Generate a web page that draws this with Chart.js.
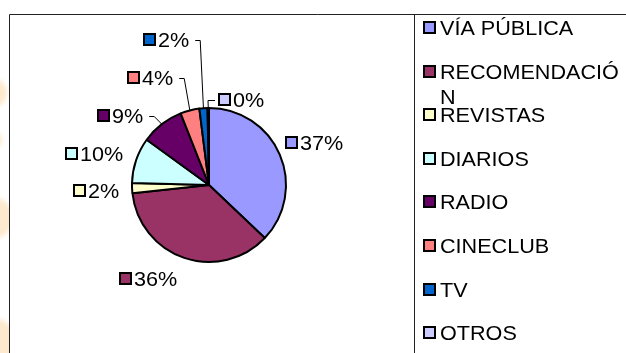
<!DOCTYPE html>
<html>
<head>
<meta charset="utf-8">
<script src="https://cdn.jsdelivr.net/npm/chart.js@4/dist/chart.umd.min.js"></script>
<style>
  html, body { margin: 0; padding: 0; background: #fff; }
  canvas { display: block; }
</style>
</head>
<body>
<canvas id="medios" width="626" height="353"></canvas>
<script>
(function () {
  'use strict';

  // Share of answers per channel (percent)
  var categories = ['VÍA PÚBLICA', 'RECOMENDACIÓN', 'REVISTAS', 'DIARIOS', 'RADIO', 'CINECLUB', 'TV', 'OTROS'];
  var shares = [37.1, 36.2, 2.1, 9.6, 9.0, 4.0, 1.7, 0.3];
  var sliceColors = ['#9999FF', '#993366', '#FFFFCC', '#CCFFFF', '#660066', '#FF8080', '#0066CC', '#CCCCFF'];

  var FONT = '20px "Liberation Sans", Arial, sans-serif';
  var STRETCH = 1.08; // text is a little wider than the plain face

  // label box placement, relative to the slice's outer midpoint: [dx, dy, leader]
  var labelPlacement = [
    [5, -12, false],
    [-65, 21, false],
    [-59, 3, false],
    [-71, -6, false],
    [-65, -8, true],
    [-63, -32, true],
    [-60, -68, true],
    [10, -8, true]
  ];

  function pctText(i) {
    var total = shares.reduce(function (a, b) { return a + b; }, 0);
    return Math.round(shares[i] / total * 100) + '%';
  }

  function textWidth(ctx, s) {
    return ctx.measureText(s).width * STRETCH;
  }

  function drawText(ctx, s, x, y) {
    ctx.save();
    ctx.translate(x, y);
    ctx.scale(STRETCH, 1);
    ctx.fillText(s, 0, 0);
    ctx.restore();
  }

  function keySquare(ctx, x, y, color) {
    ctx.fillStyle = color;
    ctx.fillRect(x + 1, y + 1, 11, 11);
    ctx.lineWidth = 2;
    ctx.strokeStyle = '#000';
    ctx.strokeRect(x + 1, y + 1, 11, 11);
  }

  // ============================================
  // Background: slide edge + frame lines
  // ============================================
  var framePlugin = {
    id: 'frame',
    beforeDraw: function (chart) {
      var ctx = chart.ctx;
      ctx.save();
      ctx.fillStyle = '#fff';
      ctx.fillRect(0, 0, chart.width, chart.height);

      // orange blobs peeking from the slide behind
      ctx.save();
      ctx.beginPath();
      ctx.rect(0, 0, 9, chart.height);
      ctx.clip();
      ctx.filter = 'blur(2px)';
      ctx.fillStyle = 'rgba(250, 200, 130, 0.4)';
      [[-8, 93, 15], [-6, 140, 8], [-8, 218, 21], [-8, 342, 24]].forEach(function (b) {
        ctx.beginPath();
        ctx.arc(b[0], b[1], b[2], 0, Math.PI * 2);
        ctx.fill();
      });
      ctx.restore();

      ctx.strokeStyle = '#222';
      ctx.lineWidth = 1;
      ctx.beginPath();
      ctx.moveTo(9.5, chart.height);
      ctx.lineTo(9.5, 14.5);
      ctx.lineTo(chart.width, 14.5);
      ctx.moveTo(414.5, 14.5);
      ctx.lineTo(414.5, chart.height);
      ctx.stroke();
      ctx.restore();
    }
  };

  // ============================================
  // Percent labels beside each slice
  // ============================================
  var sliceLabelPlugin = {
    id: 'sliceLabels',
    afterDatasetsDraw: function (chart) {
      var ctx = chart.ctx;
      var arcs = chart.getDatasetMeta(0).data;
      ctx.save();
      ctx.font = FONT;
      ctx.textBaseline = 'middle';
      ctx.textAlign = 'left';
      arcs.forEach(function (arc, i) {
        var p = arc.getProps(['x', 'y', 'startAngle', 'endAngle', 'outerRadius'], true);
        var mid = (p.startAngle + p.endAngle) / 2;
        var ox = p.x + Math.cos(mid) * p.outerRadius;
        var oy = p.y + Math.sin(mid) * p.outerRadius;
        var pl = labelPlacement[i];
        var lx = Math.round(ox + pl[0]);
        var cy = Math.round(oy + pl[1]);
        var txt = pctText(i);
        var w = textWidth(ctx, txt);

        keySquare(ctx, lx, cy - 7, sliceColors[i]);
        ctx.fillStyle = '#000';
        drawText(ctx, txt, lx + 15, cy + 1);

        if (pl[2]) {
          var sx, ex;
          if (lx > ox) {
            sx = lx - 3;
            ex = sx - 7;
          } else {
            sx = lx + 15 + w + 6;
            ex = sx + 5;
          }
          ctx.strokeStyle = '#000';
          ctx.lineWidth = 1;
          ctx.beginPath();
          ctx.moveTo(sx, cy + 0.5);
          ctx.lineTo(ex, cy + 0.5);
          ctx.lineTo(ox, oy);
          ctx.stroke();
        }
      });
      ctx.restore();
    }
  };

  // ============================================
  // Legend column on the right (wraps long names)
  // ============================================
  var legendPlugin = {
    id: 'sideLegend',
    afterDraw: function (chart) {
      var ctx = chart.ctx;
      var textX = 440;
      var maxW = chart.width - textX - 2;
      ctx.save();
      ctx.font = FONT;
      ctx.textBaseline = 'middle';
      ctx.textAlign = 'left';
      categories.forEach(function (name, i) {
        var cy = Math.round(28 + i * 43.6);
        keySquare(ctx, 423, cy - 7, sliceColors[i]);
        ctx.fillStyle = '#000';
        var lines = [name];
        if (textWidth(ctx, name) > maxW) {
          var cut = name.length;
          while (cut > 1 && textWidth(ctx, name.slice(0, cut)) > maxW) cut--;
          lines = [name.slice(0, cut), name.slice(cut)];
        }
        lines.forEach(function (line, k) {
          drawText(ctx, line, textX, cy + 1 + k * 25);
        });
      });
      ctx.restore();
    }
  };

  new Chart(document.getElementById('medios'), {
    type: 'pie',
    data: {
      labels: categories,
      datasets: [{
        data: shares,
        backgroundColor: sliceColors,
        borderColor: '#000',
        borderWidth: 2
      }]
    },
    options: {
      responsive: false,
      animation: false,
      layout: { padding: { left: 131, right: 339, top: 107, bottom: 90 } },
      plugins: {
        legend: { display: false },
        tooltip: { enabled: false }
      }
    },
    plugins: [framePlugin, sliceLabelPlugin, legendPlugin]
  });
})();
</script>
</body>
</html>
